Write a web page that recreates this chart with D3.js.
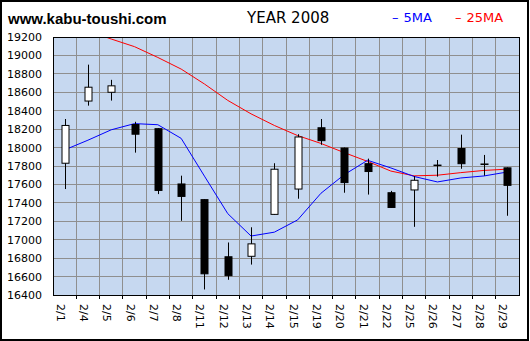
<!DOCTYPE html>
<html>
<head>
<meta charset="utf-8">
<script src="https://cdn.jsdelivr.net/npm/d3@7/dist/d3.min.js"></script>
<style>
  html, body { margin: 0; padding: 0; background: #fff; }
  svg { display: block; }
</style>
</head>
<body>
<svg id="chart" width="530" height="341"></svg>
<script>
// Daily candles, February 2008
const dates = ["2/1","2/4","2/5","2/6","2/7","2/8","2/11","2/12","2/13","2/14",
               "2/15","2/19","2/20","2/21","2/22","2/25","2/26","2/27","2/28","2/29"];
const openV  = [17830, 18505, 18600, 18250, 18205, 17605, 17435, 16815, 16820, 17275,
                17550, 18215, 17995, 17825, 17510, 17540, 17805, 17990, 17818, 17780];
const highV  = [18310, 18900, 18735, 18280, 18210, 17695, 17440, 16970, 17135, 17830,
                18145, 18310, 18000, 17880, 17530, 17690, 17865, 18140, 17920, 17785];
const lowV   = [17550, 18455, 18510, 17945, 17495, 17205, 16460, 16565, 16730, 17270,
                17445, 18030, 17510, 17490, 17345, 17140, 17685, 17770, 17695, 17260];
const closeV = [18240, 18655, 18670, 18145, 17535, 17470, 16630, 16610, 16955, 17765,
                18115, 18075, 17620, 17740, 17350, 17645, 17810, 17825, 17822, 17590];
// Moving averages
const ma5  = [17975, 18080, 18193, 18260, 18248, 18100, 17690, 17283, 17040, 17082,
              17215, 17504, 17706, 17862, 17779, 17686, 17627, 17670, 17692, 17735];
const ma25 = [19370, 19270, 19178, 19095, 18978, 18852, 18690, 18512, 18366, 18240,
              18130, 18045, 17945, 17850, 17745, 17693, 17700, 17728, 17752, 17766];
// Price axis
const yTicks = [16400, 16600, 16800, 17000, 17200, 17400, 17600, 17800,
                18000, 18200, 18400, 18600, 18800, 19000, 19200];

const svg = d3.select("#chart");
const L = 53, R = 519, T = 37, B = 295;

// outer frame
svg.append("rect").attr("x", 1).attr("y", 1).attr("width", 527).attr("height", 339)
  .attr("fill", "#fff").attr("stroke", "#000").attr("stroke-width", 2);

const x = d3.scaleBand().domain(dates).range([L, R]).paddingInner(0).paddingOuter(0);
const y = d3.scaleLinear().domain([16400, 19200]).range([B, T]);
const cx = d => x(d) + x.bandwidth() / 2;

// plot background
svg.append("rect").attr("x", L).attr("y", T).attr("width", R - L).attr("height", B - T)
  .attr("fill", "#c6d8f0");

// grid
const grid = svg.append("g").attr("stroke", "#8f8f8f").attr("stroke-width", 1)
  .attr("shape-rendering", "crispEdges");
grid.selectAll("line.h").data(yTicks).join("line").attr("class", "h")
  .attr("x1", L).attr("x2", R).attr("y1", d => y(d)).attr("y2", d => y(d));
grid.selectAll("line.v").data(dates.slice(1)).join("line").attr("class", "v")
  .attr("x1", d => x(d)).attr("x2", d => x(d)).attr("y1", T).attr("y2", B);

// y axis labels
const yAxis = d3.axisLeft(y).tickValues(yTicks).tickSize(0).tickPadding(11)
  .tickFormat(d3.format("d"));
const ya = svg.append("g").attr("transform", `translate(${L},0)`).call(yAxis);
ya.select(".domain").remove();
ya.selectAll("text").attr("font-family", "DejaVu Sans").attr("font-size", 11)
  .attr("fill", "#000");

// x axis ticks + rotated labels
const xa = svg.append("g");
xa.selectAll("line").data(dates.slice(1)).join("line")
  .attr("x1", d => x(d)).attr("x2", d => x(d)).attr("y1", B).attr("y2", B + 4)
  .attr("stroke", "#000").attr("shape-rendering", "crispEdges");
xa.selectAll("text").data(dates).join("text")
  .attr("transform", d => `translate(${cx(d) - 8},304) rotate(90)`)
  .attr("font-family", "DejaVu Sans").attr("font-size", 11).attr("fill", "#000")
  .text(d => d);

// moving averages (clipped to the plot)
svg.append("clipPath").attr("id", "plotClip").append("rect")
  .attr("x", L).attr("y", T).attr("width", R - L).attr("height", B - T);
const line = d3.line().x((v, i) => cx(dates[i])).y(v => y(v));
const lines = svg.append("g").attr("clip-path", "url(#plotClip)").attr("fill", "none");
lines.append("path").attr("d", line(ma25)).attr("stroke", "#ff0000").attr("stroke-width", 1);
lines.append("path").attr("d", line(ma5)).attr("stroke", "#0000ff").attr("stroke-width", 1);

// candles
const candles = svg.append("g").selectAll("g").data(dates).join("g");
candles.append("line")
  .attr("x1", d => Math.round(cx(d)) + 0.5).attr("x2", d => Math.round(cx(d)) + 0.5)
  .attr("y1", (d, i) => y(highV[i])).attr("y2", (d, i) => y(lowV[i]))
  .attr("stroke", "#000").attr("stroke-width", 1);
candles.append("rect")
  .attr("x", d => Math.round(cx(d)) - 3)
  .attr("width", 7)
  .attr("y", (d, i) => y(Math.max(openV[i], closeV[i])))
  .attr("height", (d, i) => Math.max(0.5, Math.abs(y(openV[i]) - y(closeV[i]))))
  .attr("fill", (d, i) => closeV[i] >= openV[i] ? "#fff" : "#000")
  .attr("stroke", "#000").attr("stroke-width", 1);

// plot frame
svg.append("rect").attr("x", L).attr("y", T).attr("width", R - L).attr("height", B - T)
  .attr("fill", "none").attr("stroke", "#000").attr("stroke-width", 1)
  .attr("shape-rendering", "crispEdges");

// header
svg.append("text").attr("x", 8).attr("y", 24).attr("font-family", "Liberation Sans, Arial")
  .attr("font-weight", "bold").attr("font-size", 15).attr("fill", "#000")
  .text("www.kabu-toushi.com");
svg.append("text").attr("x", 247).attr("y", 23).attr("font-family", "DejaVu Sans")
  .attr("font-size", 15).attr("fill", "#000").text("YEAR 2008");
const legend = [{ label: "5MA", color: "#0000ff", x: 392 }, { label: "25MA", color: "#ff0000", x: 455 }];
legend.forEach(l => {
  svg.append("text").attr("x", l.x).attr("y", 22).attr("font-family", "DejaVu Sans")
    .attr("font-size", 13).attr("fill", l.color).text("\u2013");
  svg.append("text").attr("x", l.x + 11.5).attr("y", 22).attr("font-family", "DejaVu Sans")
    .attr("font-size", 13).attr("fill", l.color).text(l.label);
});
</script>
</body>
</html>
